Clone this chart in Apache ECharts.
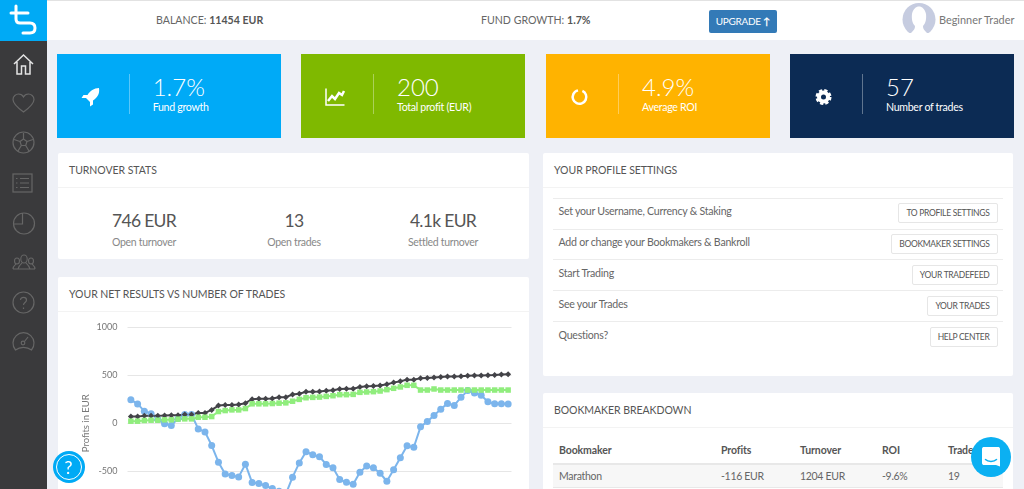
<!DOCTYPE html>
<html>
<head>
<meta charset="utf-8">
<title>Dashboard</title>
<script src="https://cdn.jsdelivr.net/npm/echarts@6/dist/echarts.min.js"></script>
<style>
  html, body { margin: 0; width: 1024px; height: 489px; overflow: hidden; background: #eef0f6; font-family: Lato, sans-serif; color: #666; }
  .abs, .card, .panel, .panel-title, .panel-line, .row-line, .row-text, .btn, .stat, .th, .td, .nav { position: absolute; }
  .sidebar { position: absolute; left: 0; top: 0; width: 47px; height: 489px; background: #3a3a3c; }
  .logo { position: absolute; left: 0; top: 0; width: 47px; height: 41px; background: #00aaf5; }
  .topbar { position: absolute; left: 47px; top: 1px; width: 977px; height: 39px; background: #fff; }
  .topline { position: absolute; left: 0; top: 0; width: 1024px; height: 1px; background: #e2e2e2; }
  .toptext { position: absolute; top: 13px; font-size: 10.6px; line-height: 14px; color: #666; white-space: nowrap; }
  .toptext b { color: #555; font-weight: 700; }
  .upgrade { position: absolute; left: 709px; top: 10px; width: 68px; height: 23px; line-height: 23px; border-radius: 2px; background: #337ab7; color: #fff; font-size: 10px; letter-spacing: -.3px; text-align: center; }
  .upgrade b { font-size: 10px; }
  .card { top: 54px; width: 224.3px; height: 84px; color: #fff; }
  .card .divider { position: absolute; left: 72px; top: 20px; width: 1px; height: 40px; background: rgba(255,255,255,.35); }
  .card .value { position: absolute; left: 96px; top: 18px; font-size: 24px; line-height: 30px; font-weight: 300; }
  .card .label { position: absolute; left: 96px; top: 46px; font-size: 10.6px; line-height: 14px; letter-spacing: -.3px; white-space: nowrap; }
  .card svg { position: absolute; left: 23px; top: 32px; }
  .panel { background: #fff; border-radius: 2px; }
  .panel-title { left: 11px; top: 10px; font-size: 10.5px; line-height: 14px; letter-spacing: -.05px; color: #555; white-space: nowrap; }
  .panel-line { left: 0; right: 0; top: 34px; height: 1px; background: #f3f3f3; }
  .stat { top: 57px; width: 150px; text-align: center; }
  .stat .num { font-size: 17.5px; line-height: 22px; letter-spacing: -.7px; color: #555; }
  .stat .cap { font-size: 10.5px; line-height: 14px; letter-spacing: -.3px; margin-top: 3px; color: #888; }
  .row-line { left: 10px; width: 450px; height: 1px; background: #ececec; }
  .row-text { left: 15.5px; font-size: 10.6px; line-height: 14px; letter-spacing: -.25px; color: #666; white-space: nowrap; }
  .btn { right: 15.5px; height: 18px; line-height: 18px; padding: 0 7px; border: 1px solid #e6e6e6; border-radius: 2px; font-size: 8.5px; letter-spacing: -.3px; color: #555; white-space: nowrap; background: #fff; }
  .th { top: 50px; font-size: 10.5px; line-height: 14px; letter-spacing: -.1px; font-weight: 700; color: #555; white-space: nowrap; }
  .td { top: 76px; font-size: 10.5px; line-height: 14px; letter-spacing: -.3px; color: #666; white-space: nowrap; }
  .nav { left: 12px; }
  #chart { position: absolute; left: 58px; top: 305px; width: 471px; height: 230px; }
  .help { position: absolute; left: 53px; top: 451px; width: 32px; height: 32px; border-radius: 50%; background: #00aaf5; }
  .help span { position: absolute; left: 2.500px; top: 2.500px; width: 24px; height: 24px; border: 1.500px solid #fff; border-radius: 50%; color: #fff; font-size: 18px; line-height: 24px; text-align: center; }
  .chat { position: absolute; left: 971px; top: 437px; width: 40px; height: 40px; border-radius: 50%; background: #0bb0f2; }
</style>
</head>
<body>

<div class="topline"></div>
<div class="topbar"></div>
<div class="toptext" style="left:156px">BALANCE: <b>11454 EUR</b></div>
<div class="toptext" style="left:481px">FUND GROWTH: <b>1.7%</b></div>
<div class="upgrade">UPGRADE <b>&#8593;</b></div>
<svg class="abs" style="left:902px;top:3px" width="34" height="30" viewBox="0 0 34 30">
  <circle cx="17" cy="16.500" r="16.500" fill="#c6cce0"/>
  <path d="M9 30 C12 27 13 26 13 23 C10 20 9.500 15 10 11 C11 6 14 3.500 17 3.500 C20 3.500 23 6 24 11 C24.500 15 24 20 21 23 C21 26 22 27 25 30 Z" fill="#fff"/>
</svg>
<div class="toptext" style="left:939px;color:#777;font-size:10.9px">Beginner Trader</div>

<div class="sidebar"></div>
<div class="logo">
  <svg width="47" height="41" viewBox="0 0 47 41" fill="none" stroke="#fff" stroke-width="3" stroke-linecap="round">
    <path d="M11 13 H28 M16 6 V19 Q16 23 20 23 H30 Q35 23 35 28 Q35 33 30 33 H23"/>
  </svg>
</div>
<svg class="nav" style="top:52px" width="23" height="24" viewBox="0 0 23 24" fill="none" stroke="#e4e4e4" stroke-width="1.500">
  <path d="M2 12 L11.500 3 L21 12 M5 10 V22 H9.500 V14 H13.500 V22 H18 V10"/>
</svg>
<svg class="nav" style="top:93px" width="23" height="20" viewBox="0 0 23 20" fill="none" stroke="#666" stroke-width="1.200">
  <path d="M11.500 19 C6 15 1 11 1 6.500 C1 3 4 1 6.500 1 C8.500 1 10.500 2 11.500 4 C12.500 2 14.500 1 16.500 1 C19 1 22 3 22 6.500 C22 11 17 15 11.500 19 Z"/>
</svg>
<svg class="nav" style="top:131px" width="23" height="23" viewBox="0 0 23 23" fill="none" stroke="#666" stroke-width="1.200">
  <circle cx="11.500" cy="11.500" r="10.500"/><path d="M11.500 8 L15 10.500 L13.700 14.500 H9.300 L8 10.500 Z M11.500 8 V2 M15 10.500 L21 8.500 M13.700 14.500 L17 20 M9.300 14.500 L6 20 M8 10.500 L2 8.500"/>
</svg>
<svg class="nav" style="top:173px" width="21" height="20" viewBox="0 0 21 20" fill="none" stroke="#666" stroke-width="1.200">
  <rect x="1" y="1" width="19" height="18"/><path d="M4 5.500 H5.500 M8 5.500 H17 M4 10 H5.500 M8 10 H17 M4 14.500 H5.500 M8 14.500 H17"/>
</svg>
<svg class="nav" style="top:211px" width="24" height="24" viewBox="0 0 24 24" fill="none" stroke="#666" stroke-width="1.200">
  <circle cx="12" cy="12.500" r="10.500"/><path d="M10.500 2 V13 H1.500"/>
</svg>
<svg class="nav" style="top:254px" width="24" height="16" viewBox="0 0 24 16" fill="none" stroke="#666" stroke-width="1.100">
  <ellipse cx="12" cy="5" rx="3.200" ry="4"/><ellipse cx="5" cy="7" rx="2.500" ry="3"/><ellipse cx="19" cy="7" rx="2.500" ry="3"/>
  <path d="M6 15 C7 11 9 10 10 9 M18 15 C17 11 15 10 14 9 M1 15 C1 12 3 11 4 10 M23 15 C23 12 21 11 20 10 M1 15 H23"/>
</svg>
<svg class="nav" style="top:291px" width="23" height="23" viewBox="0 0 23 23" fill="none" stroke="#666" stroke-width="1.200">
  <circle cx="11.500" cy="11.500" r="10.500"/><path d="M8.500 9 C8.500 5.500 14.500 5.500 14.500 9 C14.500 11.500 11.500 11.500 11.500 14 M11.500 16.500 V18"/>
</svg>
<svg class="nav" style="top:331px" width="23" height="21" viewBox="0 0 23 21" fill="none" stroke="#666" stroke-width="1.200">
  <path d="M3.500 19 A10.500 10.500 0 1 1 19.500 19 C15 15.500 8 15.500 3.500 19 Z"/><circle cx="11" cy="12" r="1.800"/><path d="M12.500 10.500 L16 6"/>
</svg>

<div class="card" style="left:56.700px;background:#00aaf7">
  <svg width="22" height="22" viewBox="0 0 22 22" fill="#fff"><path d="M19 2 C14 2 10 5 7.500 9 H3.500 L1.500 12 H6 L10 16 V20.500 L13 18.500 V14.500 C17 12 20 8 19 2 Z"/></svg>
  <div class="divider"></div><div class="value">1.7%</div><div class="label">Fund growth</div>
</div>
<div class="card" style="left:301px;background:#7fb900">
  <svg width="22" height="22" viewBox="0 0 22 22" fill="none" stroke="#fff" stroke-width="1.500"><path d="M2 2.500 V19 H20.500"/><path d="M4 15 L8 10 L11 13 L15 7 L18 9 L20 5" stroke-width="2.500"/></svg>
  <div class="divider"></div><div class="value">200</div><div class="label">Total profit (EUR)</div>
</div>
<div class="card" style="left:546px;background:#ffb300">
  <svg width="22" height="22" viewBox="0 0 22 22" fill="none" stroke="#fff" stroke-width="2.500"><circle cx="10.500" cy="11" r="6.800" stroke-dasharray="38 5" transform="rotate(-65 10.500 11)"/></svg>
  <div class="divider"></div><div class="value">4.9%</div><div class="label">Average ROI</div>
</div>
<div class="card" style="left:790px;background:#0c2b54">
  <svg width="22" height="22" viewBox="0 0 22 22" fill="none" stroke="#fff"><circle cx="10.500" cy="11" r="4.500" stroke-width="4"/><circle cx="10.500" cy="11" r="6.500" stroke-width="3" stroke-dasharray="3.100 2"/></svg>
  <div class="divider"></div><div class="value">57</div><div class="label">Number of trades</div>
</div>

<div class="panel" style="left:58px;top:153px;width:471px;height:106px">
  <div class="panel-title">TURNOVER STATS</div><div class="panel-line"></div>
  <div class="stat" style="left:11px"><div class="num">746 EUR</div><div class="cap">Open turnover</div></div>
  <div class="stat" style="left:161px"><div class="num">13</div><div class="cap">Open trades</div></div>
  <div class="stat" style="left:310px"><div class="num">4.1k EUR</div><div class="cap">Settled turnover</div></div>
</div>

<div class="panel" style="left:58px;top:277px;width:471px;height:230px">
  <div class="panel-title">YOUR NET RESULTS VS NUMBER OF TRADES</div><div class="panel-line"></div>
</div>
<div id="chart"></div>

<div class="panel" style="left:543px;top:153px;width:470px;height:223px">
  <div class="panel-title">YOUR PROFILE SETTINGS</div><div class="panel-line"></div>
  <div class="row-line" style="top:45px"></div>
  <div class="row-text" style="top:51px">Set your Username, Currency &amp; Staking</div><div class="btn" style="top:50px">TO PROFILE SETTINGS</div>
  <div class="row-line" style="top:76px"></div>
  <div class="row-text" style="top:82px">Add or change your Bookmakers &amp; Bankroll</div><div class="btn" style="top:81px">BOOKMAKER SETTINGS</div>
  <div class="row-line" style="top:106px"></div>
  <div class="row-text" style="top:113px">Start Trading</div><div class="btn" style="top:112px">YOUR TRADEFEED</div>
  <div class="row-line" style="top:137px"></div>
  <div class="row-text" style="top:144px">See your Trades</div><div class="btn" style="top:143px">YOUR TRADES</div>
  <div class="row-line" style="top:168px"></div>
  <div class="row-text" style="top:175px">Questions?</div><div class="btn" style="top:174px">HELP CENTER</div>
</div>

<div class="panel" style="left:543px;top:393px;width:470px;height:120px">
  <div class="panel-title">BOOKMAKER BREAKDOWN</div><div class="panel-line"></div>
  <div class="abs" style="left:10px;top:70px;width:450px;height:25px;background:#f7f7f7;border-top:2px solid #e8e8e8;border-bottom:1px solid #e8e8e8;box-sizing:border-box"></div>
  <div class="th" style="left:16px">Bookmaker</div><div class="th" style="left:178px">Profits</div><div class="th" style="left:257px">Turnover</div><div class="th" style="left:339px">ROI</div><div class="th" style="left:405px">Trades</div>
  <div class="td" style="left:16px">Marathon</div><div class="td" style="left:178px">-116 EUR</div><div class="td" style="left:257px">1204 EUR</div><div class="td" style="left:339px">-9.6%</div><div class="td" style="left:405px">19</div>
</div>

<div class="help"><span>?</span></div>
<div class="chat">
  <svg width="40" height="40" viewBox="0 0 40 40" fill="none"><path d="M11 12 C11 10.500 12 10 13 10 H27 C28 10 29 10.500 29 12 V29.500 L25 28 H13 C12 28 11 27.500 11 26 Z" fill="#fff"/><path d="M14.500 22.500 C17 25 23 25 25.500 22.500" stroke="#0bb0f2" stroke-width="1.500" stroke-linecap="round"/></svg>
</div>

<script>
// values, one point per settled trade
const tradeNumbers = [];
for (let n = 1; n <= 57; n++) tradeNumbers.push(n);

const yTicks = { min: -1000, max: 1000, step: 500 };

const netResults = [
  242, 200, 125, 97, 40, -7, -24, 50, 90, 90,
  -59, -90, -232, -405, -526, -543, -557, -425, -616, -626,
  -647, -678, -705, -735, -560, -412, -296, -327, -348, -428,
  -463, -585, -612, -633, -508, -445, -463, -519, -602, -484,
  -358, -233, -250, -38, 17, 80, 146, 205, 184, 268,
  338, 313, 289, 223, 202, 202, 200
];

const upperSeries = [
  69, 69, 76, 76, 76, 80, 83, 83, 90, 90,
  107, 107, 138, 183, 190, 190, 194, 208, 249, 253,
  253, 256, 270, 270, 298, 306, 327, 327, 330, 337,
  341, 355, 358, 358, 376, 383, 386, 390, 404, 421,
  435, 452, 452, 466, 470, 473, 480, 484, 484, 487,
  491, 494, 494, 498, 501, 505, 508
];

const lowerSeries = [
  21, 21, 28, 31, 31, 35, 35, 42, 45, 45,
  62, 62, 69, 121, 131, 138, 138, 152, 201, 201,
  201, 204, 208, 211, 228, 247, 264, 268, 271, 278,
  285, 296, 296, 299, 320, 324, 327, 334, 348, 362,
  376, 393, 393, 344, 344, 355, 344, 344, 344, 344,
  344, 344, 344, 344, 344, 344, 344
];

const chart = echarts.init(document.getElementById('chart'));

const lineSeries = (name, data, color, symbol, size) => ({
  name: name,
  type: 'line',
  data: data,
  symbol: symbol,
  symbolSize: size,
  showAllSymbol: true,
  clip: false,
  itemStyle: { color: color },
  lineStyle: { color: color, width: 2 }
});

chart.setOption({
  animation: false,
  grid: { left: 69.5, right: 17.5, top: 21.8, height: 192.8 },
  xAxis: {
    type: 'category',
    data: tradeNumbers,
    axisLine: { show: false },
    axisTick: { show: false },
    axisLabel: { show: false }
  },
  yAxis: {
    type: 'value',
    min: yTicks.min,
    max: yTicks.max,
    interval: yTicks.step,
    name: 'Profits in EUR',
    nameLocation: 'middle',
    nameGap: 37,
    nameMoveOverlap: false,
    nameTextStyle: { color: '#777', fontSize: 9.5, fontFamily: 'Lato' },
    axisLabel: { color: '#777', fontSize: 9, fontFamily: 'Lato', margin: 10, formatter: (v) => String(v) },
    splitLine: { lineStyle: { color: '#e6e6e6', width: 1 } }
  },
  series: [
    lineSeries('Net results', netResults, '#7cb5ec', 'circle', 7),
    lineSeries('Upper', upperSeries, '#434348', 'diamond', 6),
    lineSeries('Lower', lowerSeries, '#90ed7d', 'rect', 5.5)
  ]
});
</script>
</body>
</html>
